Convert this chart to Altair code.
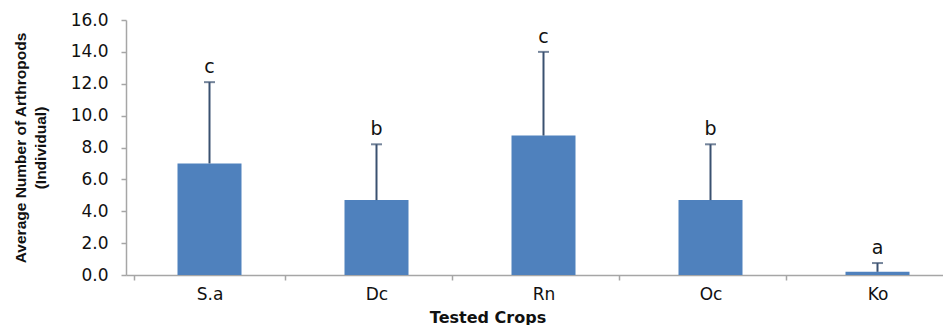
import altair as alt
import pandas as pd

crops = ["S.a", "Dc", "Rn", "Oc", "Ko"]
means = [7.0, 4.7, 8.75, 4.7, 0.2]
errors = [5.1, 3.5, 5.25, 3.5, 0.55]
letters = ["c", "b", "c", "b", "a"]
y_ticks = [0, 2, 4, 6, 8, 10, 12, 14, 16]

df = pd.DataFrame({
    "crop": crops,
    "mean": means,
    "err": errors,
    "letter": letters,
})
df["upper"] = df["mean"] + df["err"]

x_axis = alt.Axis(
    title="Tested Crops",
    labelAngle=0,
    tickBand="extent",
    domainColor="#A6A6A6",
    domainWidth=1.5,
    tickColor="#A6A6A6",
    tickWidth=1.5,
    tickSize=5,
    labelFont="DejaVu Sans",
    labelFontSize=17,
    labelColor="#111111",
    labelPadding=6,
    titleFont="DejaVu Sans",
    titleFontSize=16,
    titleFontWeight="bold",
    titleColor="#111111",
    titleX=361.5,
    titleY=34,
    titleBaseline="top",
    titleAlign="center",
)

y_axis = alt.Axis(
    values=y_ticks,
    format=".1f",
    grid=False,
    labelOverlap=False,
    title=["Average Number of Arthropods", "(Individual)"],
    titleFont="Liberation Sans",
    titleFontSize=15.5,
    titleFontWeight="bold",
    titleColor="#111111",
    titleAngle=270,
    titleX=-113,
    titleY=127.5,
    titleBaseline="top",
    titleAlign="center",
    titleLineHeight=20,
    domainColor="#A6A6A6",
    domainWidth=1.5,
    tickColor="#A6A6A6",
    tickWidth=1.5,
    tickSize=5,
    labelFont="DejaVu Sans",
    labelFontSize=17,
    labelColor="#111111",
    labelPadding=13,
)

x_scale = alt.Scale(range=[0, 835])
y_scale = alt.Scale(domain=[0, 16], nice=False)


def xe():
    return alt.X("crop:N", sort=crops, scale=x_scale, axis=x_axis)


base = alt.Chart(df)

bars = base.mark_bar(size=64, color="#4F81BD").encode(
    x=xe(),
    y=alt.Y("mean:Q", scale=y_scale, axis=y_axis),
)

rules = base.mark_rule(color="#3A5170", strokeWidth=2).encode(
    x=xe(),
    y=alt.Y("mean:Q", scale=y_scale, axis=y_axis),
    y2="upper:Q",
)

caps = base.mark_tick(color="#3A5170", size=11, thickness=2).encode(
    x=xe(),
    y=alt.Y("upper:Q", scale=y_scale, axis=y_axis),
)

labels = base.mark_text(
    dy=-9, baseline="alphabetic", font="DejaVu Sans", fontSize=19, color="#111111"
).encode(
    x=xe(),
    y=alt.Y("upper:Q", scale=y_scale, axis=y_axis),
    text="letter:N",
)

chart = (
    alt.layer(bars, rules, caps, labels)
    .properties(
        width=817,
        height=255,
        autosize=alt.AutoSizeParams(type="none"),
        padding={"left": 118, "top": 12, "right": 0, "bottom": 50},
        background="white",
    )
    .configure_view(stroke=None)
)

chart.save("out.html", embed_options={"renderer": "svg", "actions": False})
